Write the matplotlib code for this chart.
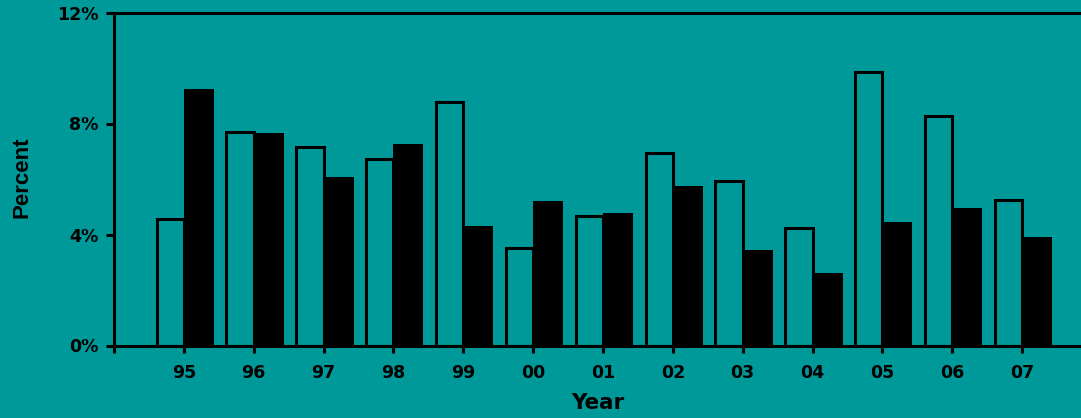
import matplotlib
matplotlib.use("Agg")
import matplotlib.pyplot as plt
from matplotlib import font_manager

years = ["95", "96", "97", "98", "99", "00", "01", "02", "03", "04", "05", "06", "07"]
hollow_vals = [4.57, 7.70, 7.16, 6.73, 8.79, 3.52, 4.67, 6.93, 5.92, 4.24, 9.85, 8.26, 5.25]
black_vals = [9.24, 7.65, 6.08, 7.27, 4.30, 5.21, 4.78, 5.74, 3.43, 2.62, 4.44, 4.97, 3.92]
y_ticks = [0, 4, 8, 12]
y_tick_labels = ["0%", "4%", "8%", "12%"]

BG = "#009999"
plt.rcParams['font.family'] = ['DejaVu Sans']

fig = plt.figure(figsize=(10.81, 4.18), dpi=100, facecolor=BG)
ax = fig.add_axes([114/1081, 72.5/418, 1 - 114/1081, 333/418], facecolor=BG)

pos = list(range(1, len(years) + 1))
ax.bar(pos, hollow_vals, width=-0.39, align='edge', facecolor=BG,
       edgecolor='black', linewidth=2.2, zorder=2)
ax.bar(pos, black_vals, width=0.43, align='edge', facecolor='black',
       edgecolor='black', linewidth=0, zorder=3)

ax.set_xlim(0, 967/69.85)
ax.set_ylim(0, 12)
ax.set_xticks([0] + pos)
ax.set_xticklabels([""] + years, fontsize=12.5, fontweight='bold')
ax.set_yticks(y_ticks)
ax.set_yticklabels(y_tick_labels, fontsize=12.5, fontweight='bold')
ax.tick_params(axis='x', length=5, width=2.2, pad=8, color='black')
ax.tick_params(axis='y', length=6, width=2.2, pad=5, color='black')

for s in ['left', 'bottom', 'top']:
    ax.spines[s].set_linewidth(2.2)
    ax.spines[s].set_color('black')
ax.spines['right'].set_visible(False)

ax.set_xlabel("Year", fontsize=15.5, fontweight='bold', labelpad=8)

names = {f.name for f in font_manager.fontManager.ttflist}
if 'Liberation Sans Narrow' in names:
    pfam, psize = ['Liberation Sans Narrow', 'DejaVu Sans'], 19
else:
    pfam, psize = ['Liberation Sans', 'DejaVu Sans'], 16
fig.text(22/1081, 1 - 177/418, "Percent", rotation=90, fontsize=psize,
         fontweight='bold', ha='center', va='center', family=pfam)

fig.savefig("out.png", dpi=100, facecolor=BG)
